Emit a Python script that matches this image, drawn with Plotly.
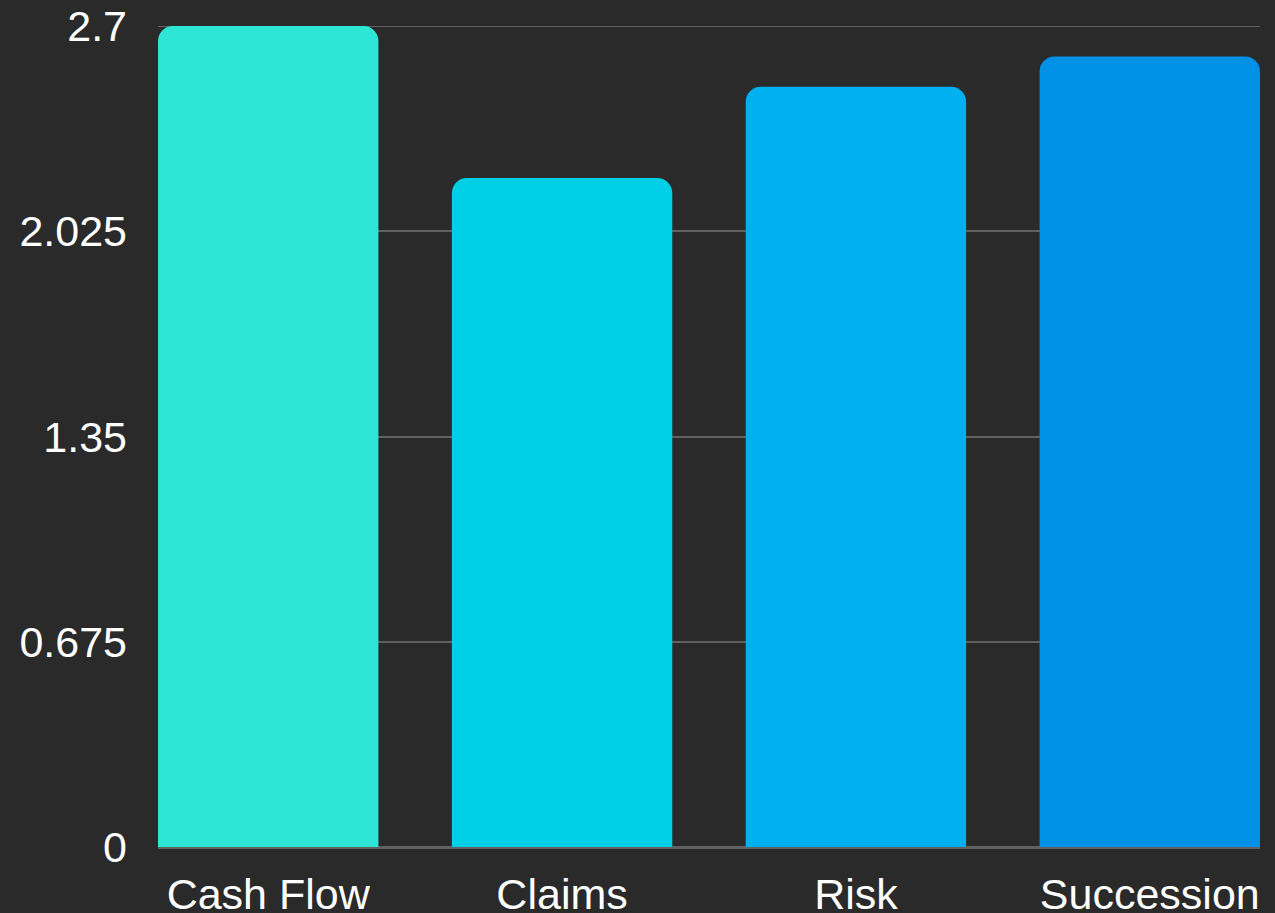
import plotly.graph_objects as go

categories = ["Cash Flow", "Claims", "Risk", "Succession"]
values = [2.7, 2.2, 2.5, 2.6]
bar_colors = ["#2ee6d6", "#00cfe8", "#00b0f0", "#0091e6"]
tick_vals = [0, 0.675, 1.35, 2.025, 2.7]
tick_text = ["0", "0.675", "1.35", "2.025", "2.7"]

fig = go.Figure(go.Bar(
    x=categories,
    y=values,
    marker=dict(color=bar_colors, line=dict(width=0)),
))

fig.update_layout(
    width=1275,
    height=913,
    paper_bgcolor="#2a2a2a",
    plot_bgcolor="#2a2a2a",
    margin=dict(l=158, r=15, t=26, b=66),
    bargap=0.25,
    barcornerradius=15,
    showlegend=False,
    font=dict(family="Liberation Sans, Arial, sans-serif", size=43, color="#ffffff"),
)
fig.update_xaxes(
    range=[-0.375, 3.375],
    showgrid=False,
    showline=False,
    ticks="",
    ticklabelstandoff=18,
    automargin=False,
)
fig.update_yaxes(
    range=[0, 2.7],
    tickvals=tick_vals,
    ticktext=tick_text,
    showgrid=True,
    gridcolor="#606060",
    gridwidth=2,
    zeroline=True,
    zerolinecolor="#606060",
    zerolinewidth=3,
    layer="above traces",
    ticks="",
    ticklabelstandoff=30,
    automargin=False,
)

# plotly skips the grid line sitting on the top edge, so draw it as a shape
fig.add_shape(
    type="line", xref="paper", yref="y",
    x0=0, x1=1, y0=tick_vals[-1], y1=tick_vals[-1],
    line=dict(color="#606060", width=2), layer="below",
)

# remove the default page margin so the figure fills the window
fig.write_html(
    "out.html",
    config={"displayModeBar": False},
    post_script="document.body.style.margin='0';",
)
